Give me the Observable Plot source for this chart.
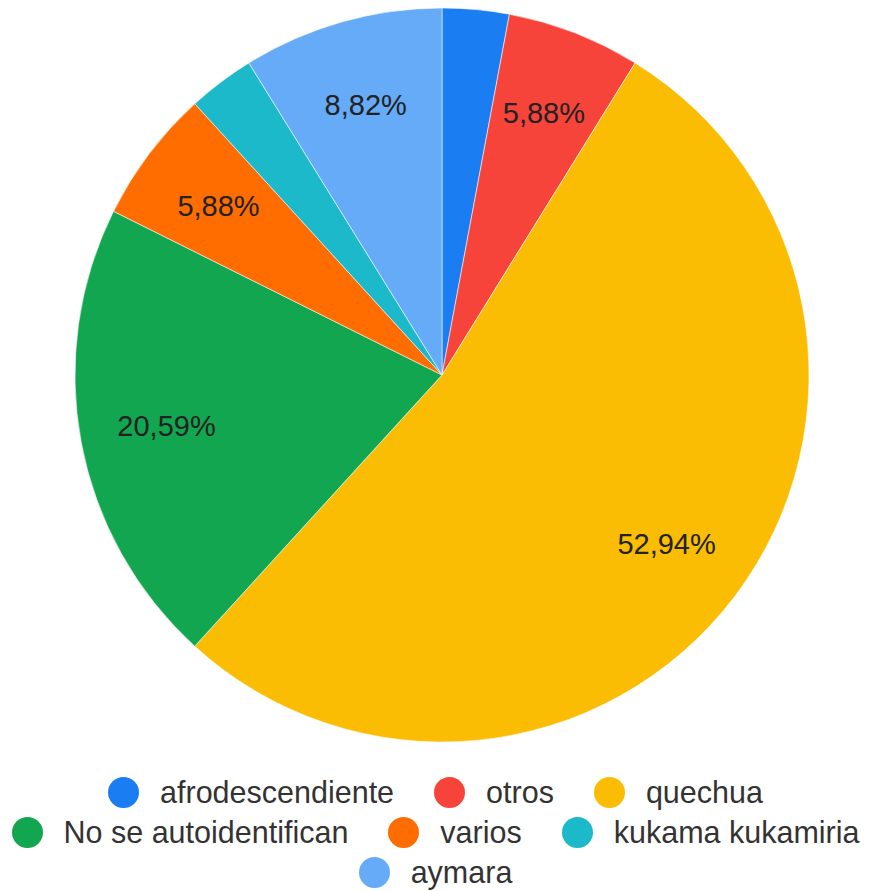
<!DOCTYPE html>
<html>
<head>
<meta charset="utf-8">
<script src="https://cdn.jsdelivr.net/npm/d3@7"></script>
<script src="https://cdn.jsdelivr.net/npm/@observablehq/plot@0.6"></script>
<style>
  html, body { margin: 0; padding: 0; background: #fff; }
  #chart { width: 871px; }
  .legend {
    width: 871px; margin-top: 2px;
    display: flex; flex-wrap: wrap; justify-content: center;
    column-gap: 40px; row-gap: 0;
    font-family: Arial, "Liberation Sans", sans-serif; font-size: 30.5px; color: #333;
  }
  .legend .item { display: flex; align-items: center; height: 40px; white-space: nowrap; }
  .legend .sw { width: 31px; height: 31px; border-radius: 50%; margin-right: 21px; flex: none; }
</style>
</head>
<body>
<div id="chart"></div>
<script>
// Data, in clockwise order from 12 o'clock
const categories = ["afrodescendiente", "otros", "quechua", "No se autoidentifican", "varios", "kukama kukamiria", "aymara"];
const percents = [2.94, 5.88, 52.94, 20.59, 5.88, 2.94, 8.82];
const colors = ["#1a7ef2", "#f7443a", "#fbbc04", "#12a650", "#ff6d01", "#1bb9c9", "#66abf7"];

const data = categories.map((name, i) => ({name, value: percents[i]}));

const W = 871, H = 770, CX = 442, CY = 375, R = 367;
const LABEL_R = 0.765;

const pieArcs = d3.pie().sort(null).value(d => d.value)(data);
const labels = pieArcs
  .filter(a => a.data.value >= 5)
  .map(a => {
    const mid = (a.startAngle + a.endAngle) / 2;
    return {
      name: a.data.name,
      x: LABEL_R * Math.sin(mid),
      y: LABEL_R * Math.cos(mid),
      text: a.data.value.toFixed(2).replace(".", ",") + "%"
    };
  });

const slices = (index, scales) => {
  const cx = scales.x(0), cy = scales.y(0), r = scales.x(1) - scales.x(0);
  const arc = d3.arc().innerRadius(0).outerRadius(r);
  const colorOf = scales.color ? scales.color : (n => colors[categories.indexOf(n)]);
  const g = d3.create("svg:g").attr("transform", `translate(${cx},${cy})`);
  g.selectAll("path").data(pieArcs).join("path")
    .attr("d", arc)
    .attr("fill", d => colorOf(d.data.name))
    .attr("stroke", "rgba(255,255,255,0.55)")
    .attr("stroke-width", 1);
  return g.node();
};

const chart = Plot.plot({
  width: W, height: H,
  margin: 0,
  x: {domain: [-CX / R, (W - CX) / R], axis: null},
  y: {domain: [-(H - CY) / R, CY / R], axis: null},
  color: {type: "ordinal", domain: categories, range: colors},
  style: {fontFamily: "Arial, 'Liberation Sans', sans-serif", background: "#fff"},
  marks: [
    Plot.dot(data, {x: () => 0, y: () => 0, fill: "name", r: 0}),
    slices,
    Plot.text(labels, {x: "x", y: "y", text: "text", fontSize: 29, fill: "#222",
      fontFamily: "Arial, 'Liberation Sans', sans-serif"})
  ]
});
document.getElementById("chart").appendChild(chart);

// Legend
const legend = document.createElement("div");
legend.className = "legend";
categories.forEach((name, i) => {
  const item = document.createElement("div");
  item.className = "item";
  const sw = document.createElement("span");
  sw.className = "sw";
  sw.style.background = colors[i];
  const t = document.createElement("span");
  t.textContent = name;
  item.appendChild(sw);
  item.appendChild(t);
  legend.appendChild(item);
});
document.getElementById("chart").appendChild(legend);
</script>
</body>
</html>
